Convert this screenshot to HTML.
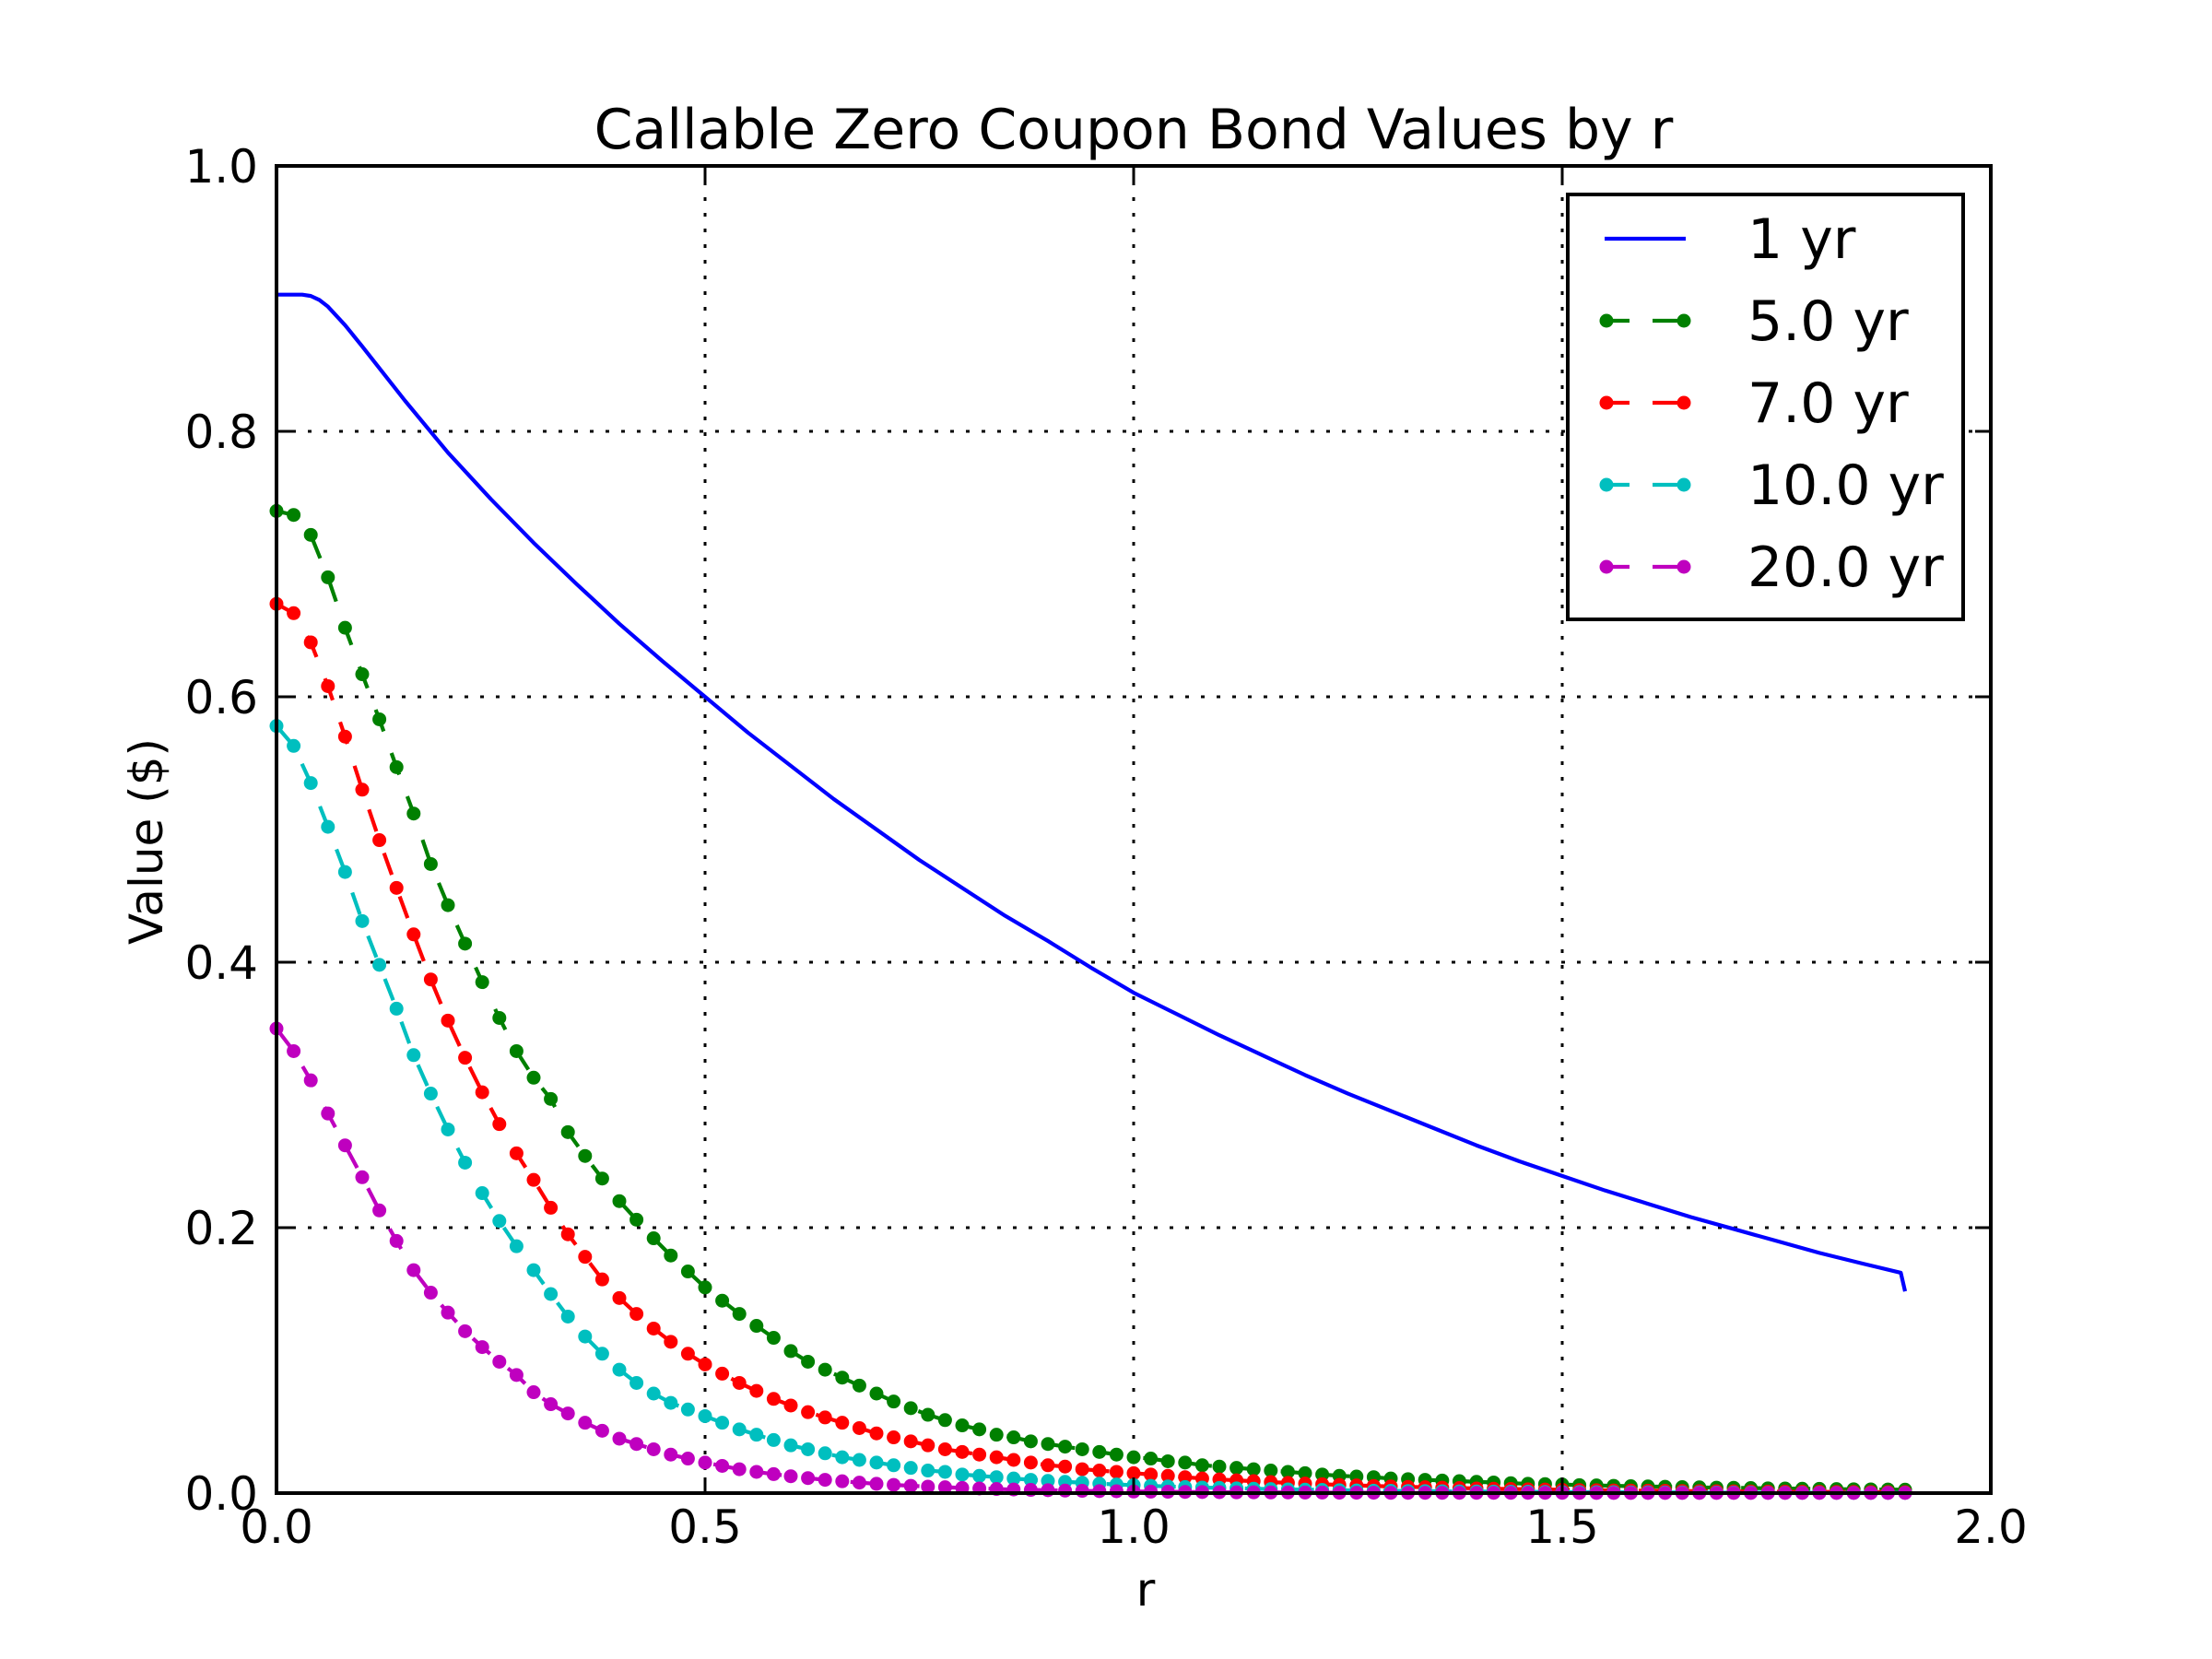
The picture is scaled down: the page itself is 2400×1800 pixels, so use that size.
<!DOCTYPE html>
<html><head><meta charset="utf-8"><title>Callable Zero Coupon Bond Values by r</title>
<style>
html,body{margin:0;padding:0;background:#fff;}
svg{display:block;font-family:"DejaVu Sans","Liberation Sans",sans-serif;}
</style></head>
<body>
<svg id="chart" width="2400" height="1800" viewBox="0 0 2400 1800" xmlns="http://www.w3.org/2000/svg">
<rect x="0" y="0" width="2400" height="1800" fill="#fff"/>
<g id="grid"></g>
<g id="series"></g>
<g id="axes"></g>
<text x="1230" y="161" font-size="60" text-anchor="middle">Callable Zero Coupon Bond Values by r</text>
<text x="1243" y="1742" font-size="50" text-anchor="middle">r</text>
<text x="0" y="0" font-size="50" text-anchor="middle" transform="translate(176,913) rotate(-90)">Value ($)</text>
<g id="legend"></g>
</svg>
<script>
// ---- data ----
const xTicks = [0.0, 0.5, 1.0, 1.5, 2.0];
const xTickLabels = ["0.0", "0.5", "1.0", "1.5", "2.0"];
const yTicks = [0.0, 0.2, 0.4, 0.6, 0.8, 1.0];
const yTickLabels = ["0.0", "0.2", "0.4", "0.6", "0.8", "1.0"];

const seriesNames = ["1 yr", "5.0 yr", "7.0 yr", "10.0 yr", "20.0 yr"];

const rBlue = [0,0.03,0.04,0.05,0.06,0.08,0.1,0.15,0.2,0.25,0.3,0.35,0.4,0.45,0.5,0.55,0.6,0.65,0.7,0.75,0.8,0.85,0.9,0.95,1.0,1.05,1.1,1.15,1.2,1.25,1.3,1.35,1.4,1.45,1.5,1.55,1.6,1.65,1.7,1.75,1.8,1.85,1.895,1.9];
const vBlue = [0.903,0.903,0.902,0.899,0.894,0.880,0.864,0.823,0.784,0.749,0.716,0.685,0.655,0.627,0.600,0.573,0.548,0.523,0.500,0.477,0.456,0.435,0.416,0.396,0.377,0.361,0.345,0.330,0.315,0.301,0.288,0.275,0.262,0.250,0.239,0.228,0.218,0.208,0.199,0.190,0.181,0.173,0.166,0.152];

const rGrid = [0,0.02,0.04,0.06,0.08,0.10,0.12,0.14,0.16,0.18,0.20,0.22,0.24,0.26,0.28,0.30,0.32,0.34,0.36,0.38,0.40,0.42,0.44,0.46,0.48,0.50,0.52,0.54,0.56,0.58,0.60,0.62,0.64,0.66,0.68,0.70,0.72,0.74,0.76,0.78,0.80,0.82,0.84,0.86,0.88,0.90,0.92,0.94,0.96,0.98,1.00,1.02,1.04,1.06,1.08,1.10,1.12,1.14,1.16,1.18,1.20,1.22,1.24,1.26,1.28,1.30,1.32,1.34,1.36,1.38,1.40,1.42,1.44,1.46,1.48,1.50,1.52,1.54,1.56,1.58,1.60,1.62,1.64,1.66,1.68,1.70,1.72,1.74,1.76,1.78,1.80,1.82,1.84,1.86,1.88,1.90];

const vGreen = [0.740,0.737,0.722,0.690,0.652,0.617,0.583,0.547,0.512,0.474,0.443,0.414,0.385,0.358,0.333,0.313,0.297,0.272,0.254,0.237,0.220,0.206,0.192,0.179,0.167,0.155,0.145,0.135,0.126,0.117,0.107,0.099,0.093,0.087,0.081,0.075,0.069,0.064,0.059,0.055,0.051,0.048,0.044,0.042,0.039,0.037,0.035,0.033,0.031,0.029,0.027,0.026,0.024,0.023,0.021,0.020,0.019,0.018,0.017,0.016,0.015,0.014,0.013,0.0125,0.012,0.011,0.0105,0.010,0.0095,0.009,0.0085,0.008,0.0075,0.007,0.0068,0.0065,0.006,0.0058,0.0055,0.0052,0.005,0.0048,0.0045,0.0043,0.0041,0.004,0.0038,0.0036,0.0035,0.0033,0.0032,0.003,0.0029,0.0028,0.0027,0.0026];

const vRed = [0.670,0.663,0.641,0.608,0.570,0.530,0.492,0.456,0.421,0.387,0.356,0.328,0.302,0.278,0.256,0.236,0.215,0.195,0.178,0.161,0.147,0.135,0.124,0.114,0.105,0.097,0.090,0.083,0.077,0.071,0.066,0.061,0.057,0.053,0.049,0.045,0.042,0.039,0.036,0.033,0.031,0.029,0.027,0.025,0.023,0.021,0.020,0.018,0.017,0.016,0.015,0.014,0.013,0.012,0.011,0.0103,0.0096,0.009,0.0083,0.0077,0.0072,0.0067,0.0062,0.0058,0.0054,0.005,0.0047,0.0044,0.0041,0.0038,0.0035,0.0033,0.0031,0.0029,0.0027,0.0025,0.0023,0.0022,0.002,0.0019,0.0018,0.0017,0.0016,0.0015,0.0014,0.0013,0.0012,0.0011,0.0011,0.001,0.001,0.0009,0.0009,0.0008,0.0008,0.0007];

const vCyan = [0.578,0.563,0.535,0.502,0.468,0.431,0.398,0.365,0.330,0.301,0.274,0.249,0.226,0.205,0.186,0.168,0.150,0.133,0.118,0.105,0.093,0.083,0.075,0.068,0.063,0.058,0.053,0.048,0.044,0.040,0.036,0.033,0.030,0.027,0.025,0.023,0.021,0.019,0.017,0.016,0.014,0.013,0.012,0.011,0.010,0.0092,0.0085,0.0078,0.0071,0.0065,0.006,0.0055,0.005,0.0046,0.0042,0.0039,0.0036,0.0033,0.003,0.0028,0.0026,0.0024,0.0022,0.002,0.0018,0.0017,0.0016,0.0015,0.0014,0.0013,0.0012,0.0011,0.001,0.001,0.0009,0.0008,0.0008,0.0007,0.0007,0.0006,0.0006,0.0005,0.0005,0.0005,0.0004,0.0004,0.0004,0.0003,0.0003,0.0003,0.0003,0.0002,0.0002,0.0002,0.0002,0.0002];

const vMagenta = [0.350,0.333,0.311,0.286,0.262,0.238,0.213,0.190,0.168,0.151,0.136,0.122,0.110,0.099,0.089,0.076,0.067,0.060,0.053,0.047,0.041,0.037,0.033,0.029,0.026,0.023,0.0205,0.018,0.016,0.0143,0.0127,0.0113,0.010,0.0089,0.0079,0.007,0.0062,0.0055,0.0049,0.0044,0.0039,0.0035,0.0031,0.0027,0.0024,0.0022,0.0019,0.0017,0.0015,0.0014,0.0012,0.0011,0.001,0.0009,0.0008,0.0007,0.0006,0.0006,0.0005,0.0005,0.0004,0.0004,0.0003,0.0003,0.0003,0.0002,0.0002,0.0002,0.0002,0.0002,0.0002,0.0002,0.0002,0.0002,0.0002,0.0002,0.0001,0.0001,0.0001,0.0001,0.0001,0.0001,0.0001,0.0001,0.0001,0.0001,0.0001,0.0001,0.0001,0.0001,0.0001,0.0001,0.0001,0.0001,0.0001,0.0001];

// ---- layout ----
const NS = "http://www.w3.org/2000/svg";
const L = 300, R = 2160, T = 180, B = 1620;
const xMin = 0, xMax = 2, yMin = 0, yMax = 1;
function xs(v){ return L + (v - xMin) / (xMax - xMin) * (R - L); }
function ys(v){ return B - (v - yMin) / (yMax - yMin) * (B - T); }
function mk(tag, attrs, parent){
  const el = document.createElementNS(NS, tag);
  for (const k in attrs) el.setAttribute(k, attrs[k]);
  parent.appendChild(el);
  return el;
}

const gGrid = document.getElementById('grid');
const gAxes = document.getElementById('axes');
const gSeries = document.getElementById('series');
const gLegend = document.getElementById('legend');

// grid lines
xTicks.forEach((t, i) => {
  if (i === 0 || i === xTicks.length - 1) return;
  const ln = mk('line', {x1: xs(t), x2: xs(t), y1: T, y2: B, stroke: '#000', 'stroke-width': 3, 'stroke-dasharray': '4 13'}, gGrid);
  
  
});
yTicks.forEach((t, i) => {
  if (i === 0 || i === yTicks.length - 1) return;
  const ln = mk('line', {x1: L, x2: R, y1: ys(t), y2: ys(t), stroke: '#000', 'stroke-width': 3, 'stroke-dasharray': '4 13'}, gGrid);
  
  
});

// series
function pathFrom(xsArr, vsArr){
  let d = '';
  for (let i = 0; i < vsArr.length; i++) {
    d += (i ? 'L' : 'M') + xs(xsArr[i]).toFixed(2) + ' ' + ys(vsArr[i]).toFixed(2);
  }
  return d;
}
const blue = mk('path', {d: pathFrom(rBlue, vBlue), fill: 'none', stroke: '#0000ff', 'stroke-width': 4.2, 'stroke-linejoin': 'round'}, gSeries);



const dotted = [
  {vals: vGreen, color: '#008000', name: '5-yr'},
  {vals: vRed, color: '#ff0000', name: '7-yr'},
  {vals: vCyan, color: '#00bfbf', name: '10-yr'},
  {vals: vMagenta, color: '#bf00bf', name: '20-yr'}
];
dotted.forEach(s => {
  const g = mk('g', {}, gSeries);
  
  
  const p = mk('path', {d: pathFrom(rGrid, s.vals), fill: 'none', stroke: s.color, 'stroke-width': 4.2, 'stroke-dasharray': '25 25'}, g);
  
  
  s.vals.forEach((v, i) => {
    const c = mk('circle', {cx: xs(rGrid[i]).toFixed(2), cy: ys(v).toFixed(2), r: 7.5, fill: s.color}, g);
    
    
  });
});

// axes frame
const frame = mk('rect', {x: L, y: T, width: R - L, height: B - T, fill: 'none', stroke: '#000', 'stroke-width': 4}, gAxes);



// ticks & labels
xTicks.forEach((t, i) => {
  const a = mk('line', {x1: xs(t), x2: xs(t), y1: B, y2: B - 17, stroke: '#000', 'stroke-width': 3}, gAxes);
  
  
  const b = mk('line', {x1: xs(t), x2: xs(t), y1: T, y2: T + 17, stroke: '#000', 'stroke-width': 3}, gAxes);
  
  
  const tx = mk('text', {x: xs(t), y: 1674, 'font-size': 50, 'text-anchor': 'middle'}, gAxes);
  tx.textContent = xTickLabels[i];
  
  
});
yTicks.forEach((t, i) => {
  const a = mk('line', {x1: L, x2: L + 17, y1: ys(t), y2: ys(t), stroke: '#000', 'stroke-width': 3}, gAxes);
  
  
  const b = mk('line', {x1: R, x2: R - 17, y1: ys(t), y2: ys(t), stroke: '#000', 'stroke-width': 3}, gAxes);
  
  
  const tx = mk('text', {x: 280, y: ys(t) + 18, 'font-size': 50, 'text-anchor': 'end'}, gAxes);
  tx.textContent = yTickLabels[i];
  
  
});

// legend
const lbox = mk('rect', {x: 1701, y: 211, width: 429, height: 461, fill: '#fff', stroke: '#000', 'stroke-width': 4}, gLegend);


const legColors = ['#0000ff', '#008000', '#ff0000', '#00bfbf', '#bf00bf'];
seriesNames.forEach((nm, i) => {
  const cy = 259 + i * 89;
  const g = mk('g', {}, gLegend);
  
  
  if (i === 0) {
    mk('line', {x1: 1741, x2: 1829, y1: cy, y2: cy, stroke: legColors[i], 'stroke-width': 4.2}, g);
  } else {
    mk('line', {x1: 1743, x2: 1768, y1: cy, y2: cy, stroke: legColors[i], 'stroke-width': 4.2}, g);
    mk('line', {x1: 1793, x2: 1827, y1: cy, y2: cy, stroke: legColors[i], 'stroke-width': 4.2}, g);
    mk('circle', {cx: 1743, cy: cy, r: 7.5, fill: legColors[i]}, g);
    mk('circle', {cx: 1827, cy: cy, r: 7.5, fill: legColors[i]}, g);
  }
  const tx = mk('text', {x: 1896, y: cy + 21, 'font-size': 60}, g);
  tx.textContent = nm;
  
  
});
</script>
</body></html>
